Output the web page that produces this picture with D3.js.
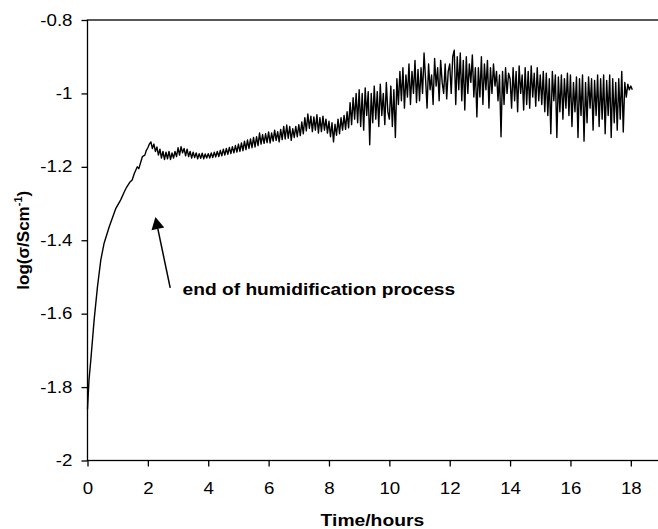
<!DOCTYPE html>
<html>
<head>
<meta charset="utf-8">
<script src="https://cdn.jsdelivr.net/npm/d3@7"></script>
<style>
    body { margin: 0; background: #fff; }
    svg { display: block; font-family: Arial, "Liberation Sans", sans-serif; }
</style>
</head>
<body>
<svg id="chart" width="658" height="529"></svg>
<script>
    // Data - humidification (rise) part
    const riseTimes  = [0, 0.05, 0.11, 0.22, 0.33, 0.44, 0.55, 0.72, 0.94, 1.1, 1.22, 1.3, 1.4, 1.48, 1.55, 1.65, 1.7, 1.82, 1.9, 1.95];
    const riseValues = [-1.86, -1.78, -1.726, -1.617, -1.527, -1.454, -1.408, -1.363, -1.313, -1.29, -1.268, -1.255, -1.242, -1.236, -1.218, -1.2, -1.205, -1.172, -1.168, -1.155];

    // Data - readings after humidification, one row per hour (20 readings per hour)
    const firstHour = 2;
    const samplesPerHour = 20;
    const hourlyReadings = [
        [-1.148, -1.138, -1.132, -1.15, -1.138, -1.158, -1.146, -1.168, -1.152, -1.176, -1.158, -1.18, -1.16, -1.178, -1.158, -1.18, -1.162, -1.176, -1.158, -1.172],
        [-1.148, -1.168, -1.145, -1.162, -1.15, -1.17, -1.152, -1.172, -1.158, -1.176, -1.16, -1.175, -1.162, -1.178, -1.164, -1.177, -1.163, -1.178, -1.165, -1.176],
        [-1.164, -1.176, -1.162, -1.175, -1.16, -1.173, -1.158, -1.172, -1.155, -1.17, -1.152, -1.168, -1.15, -1.166, -1.147, -1.164, -1.145, -1.162, -1.142, -1.16],
        [-1.138, -1.158, -1.135, -1.156, -1.13, -1.153, -1.127, -1.15, -1.124, -1.148, -1.12, -1.146, -1.118, -1.142, -1.108, -1.138, -1.112, -1.136, -1.11, -1.134],
        [-1.105, -1.135, -1.108, -1.13, -1.1, -1.128, -1.104, -1.132, -1.098, -1.126, -1.09, -1.124, -1.086, -1.122, -1.09, -1.128, -1.096, -1.12, -1.09, -1.118],
        [-1.085, -1.115, -1.078, -1.11, -1.066, -1.102, -1.056, -1.095, -1.062, -1.104, -1.064, -1.1, -1.058, -1.108, -1.066, -1.104, -1.062, -1.1, -1.07, -1.108],
        [-1.076, -1.118, -1.08, -1.132, -1.084, -1.114, -1.07, -1.11, -1.066, -1.1, -1.06, -1.098, -1.05, -1.094, -1.025, -1.085, -1.012, -1.07, -1.0, -1.08],
        [-0.99, -1.09, -1.0, -1.1, -0.985, -1.06, -0.995, -1.14, -1.0, -1.08, -0.98, -1.07, -0.995, -1.09, -0.975, -1.06, -1.0, -1.085, -0.97, -1.05],
        [-1.07, -0.98, -1.09, -0.99, -1.12, -0.96, -1.03, -0.94, -1.02, -0.93, -1.04, -0.95, -1.01, -0.92, -1.03, -0.94, -1.0, -0.91, -1.025, -0.935],
        [-1.02, -0.93, -1.0, -0.89, -0.96, -1.04, -0.92, -0.99, -0.95, -1.03, -0.905, -0.98, -0.93, -1.02, -0.91, -0.97, -1.0, -0.92, -1.015, -0.94],
        [-0.92, -1.0, -0.9, -0.882, -1.03, -0.9, -0.99, -0.89, -1.02, -0.91, -1.045, -0.9, -1.0, -0.92, -0.97, -0.895, -1.01, -0.93, -1.064, -0.93],
        [-1.01, -0.9, -1.03, -0.92, -0.99, -0.91, -1.04, -0.93, -1.0, -0.92, -0.98, -0.94, -1.02, -0.95, -1.118, -0.94, -1.03, -0.93, -1.0, -0.945],
        [-0.96, -1.04, -0.93, -1.02, -0.94, -1.05, -0.925, -1.0, -0.95, -1.045, -0.93, -1.03, -0.94, -1.04, -0.925, -1.01, -0.945, -1.035, -0.93, -1.02],
        [-0.95, -1.03, -0.94, -1.05, -0.945, -1.06, -0.96, -1.11, -0.94, -1.02, -0.95, -1.12, -0.955, -1.05, -0.95, -1.07, -0.96, -1.04, -0.945, -1.06],
        [-0.95, -1.09, -0.97, -1.05, -0.955, -1.12, -0.96, -1.06, -0.95, -1.13, -0.97, -1.08, -0.955, -1.04, -0.96, -1.1, -0.965, -1.06, -0.95, -1.09],
        [-0.96, -1.07, -0.95, -1.11, -0.965, -1.06, -0.95, -1.12, -0.96, -1.08, -0.97, -1.1, -0.96, -1.07, -0.94, -1.105, -0.97, -1.01, -0.975, -0.99],
        [-0.98, -0.99]
    ];

    // Axes
    const xTicks = [0, 2, 4, 6, 8, 10, 12, 14, 16, 18];
    const yTicks = [-2, -1.8, -1.6, -1.4, -1.2, -1, -0.8];
    const xDomain = [0, 19];
    const yDomain = [-2, -0.8];

    // Annotation (data coordinates)
    const arrowTip = [2.25, -1.337];
    const arrowTail = [2.74, -1.53];
    const noteAt = [3.15, -1.549];
    const noteText = 'end of humidification process';

    // Layout
    const STRETCH = 1.17;   // the picture's text is a bit wider than plain Arial

    const svg = d3.select('#chart');
    const x = d3.scaleLinear().domain(xDomain).range([87.5, 661]);
    const y = d3.scaleLinear().domain(yDomain).range([460.5, 20]);

    // Build the series
    let series = riseTimes.map((t, i) => [t, riseValues[i]]);
    hourlyReadings.forEach((row, h) => {
        row.forEach((v, k) => series.push([firstHour + h + k / samplesPerHour, v]));
    });

    // Frame
    svg.append('rect')
        .attr('x', x(xDomain[0]))
        .attr('y', y(yDomain[1]))
        .attr('width', x(xDomain[1]) - x(xDomain[0]))
        .attr('height', y(yDomain[0]) - y(yDomain[1]))
        .attr('fill', 'none')
        .attr('stroke', '#000')
        .attr('stroke-width', 1.3);

    const fmt = (d) => String(+d.toFixed(1));

    const gx = svg.append('g')
        .attr('transform', 'translate(0,' + y(yDomain[0]) + ')')
        .call(d3.axisBottom(x).tickValues(xTicks).tickSize(6).tickPadding(16).tickFormat(fmt));
    const gy = svg.append('g')
        .attr('transform', 'translate(' + x(xDomain[0]) + ',0)')
        .call(d3.axisLeft(y).tickValues(yTicks).tickSize(6).tickPadding(9).tickFormat(fmt));

    [gx, gy].forEach((g) => {
        g.select('.domain').remove();
        g.selectAll('line').attr('stroke', '#000').attr('stroke-width', 1.3);
        g.selectAll('text')
            .attr('fill', '#000')
            .style('font-size', '16px')
            .style('font-family', 'Arial, "Liberation Sans", sans-serif');
    });
    gx.selectAll('text').attr('transform', 'scale(' + STRETCH + ',1)');
    gy.selectAll('text')
        .attr('x', 0)
        .attr('transform', 'translate(-15,0) scale(' + STRETCH + ',1)');

    // Line
    svg.append('path')
        .datum(series)
        .attr('fill', 'none')
        .attr('stroke', '#000')
        .attr('stroke-width', 1.4)
        .attr('stroke-linejoin', 'round')
        .attr('d', d3.line().x((d) => x(d[0])).y((d) => y(d[1])));

    // Axis titles
    svg.append('text')
        .attr('transform', 'translate(' + (x(xDomain[0]) + x(xDomain[1])) / 2 * 0.995 + ',526) scale(' + STRETCH + ',1)')
        .attr('text-anchor', 'middle')
        .style('font-size', '16.5px')
        .style('font-weight', 'bold')
        .text('Time/hours');

    const yTitle = svg.append('text')
        .attr('transform', 'translate(29,' + (y(yDomain[0]) + y(yDomain[1])) / 2 + ') rotate(-90)')
        .attr('text-anchor', 'middle')
        .style('font-size', '17px')
        .style('font-weight', 'bold');
    yTitle.append('tspan').text('log(σ/Scm');
    yTitle.append('tspan').attr('dy', -7).style('font-size', '11px').text('-1');
    yTitle.append('tspan').attr('dy', 7).text(')');

    // Annotation arrow
    const tip = [x(arrowTip[0]), y(arrowTip[1])];
    const tail = [x(arrowTail[0]), y(arrowTail[1])];
    const len = Math.hypot(tip[0] - tail[0], tip[1] - tail[1]);
    const ux = (tip[0] - tail[0]) / len, uy = (tip[1] - tail[1]) / len;
    const headLen = 12, headHalf = 6.5;
    const base = [tip[0] - ux * headLen, tip[1] - uy * headLen];

    svg.append('line')
        .attr('x1', tail[0]).attr('y1', tail[1])
        .attr('x2', base[0]).attr('y2', base[1])
        .attr('stroke', '#000')
        .attr('stroke-width', 1.5);
    svg.append('polygon')
        .attr('points', [
            tip,
            [base[0] - uy * headHalf, base[1] + ux * headHalf],
            [base[0] + uy * headHalf, base[1] - ux * headHalf]
        ].map((p) => p.join(',')).join(' '))
        .attr('fill', '#000');

    svg.append('text')
        .attr('transform', 'translate(' + x(noteAt[0]) + ',' + y(noteAt[1]) + ') scale(' + STRETCH + ',1)')
        .style('font-size', '16.4px')
        .style('font-weight', 'bold')
        .text(noteText);
</script>
</body>
</html>
